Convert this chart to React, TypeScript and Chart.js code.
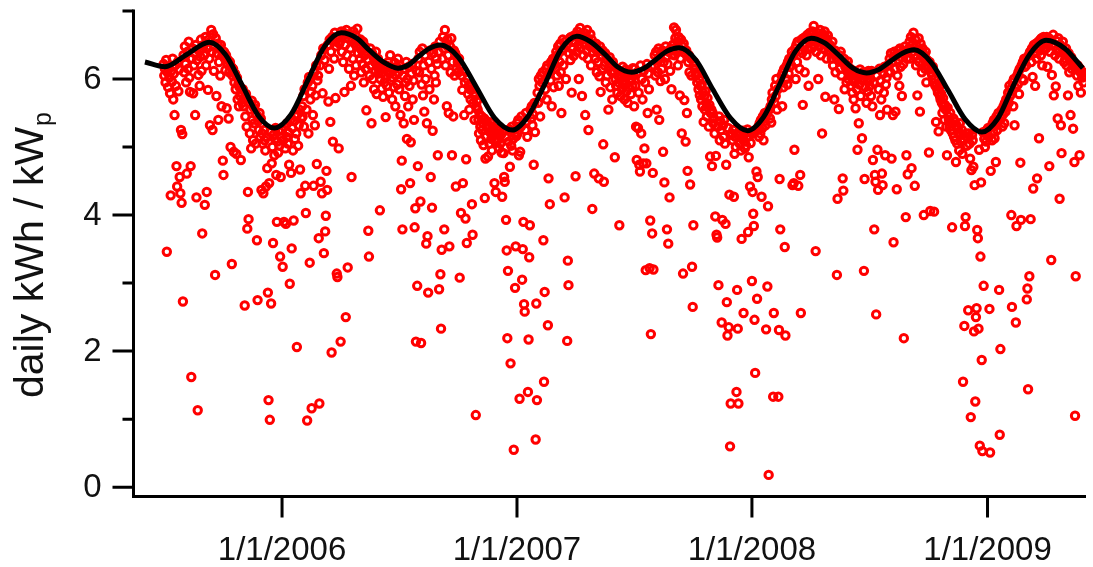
import React, { useEffect, useRef } from 'react';
import { Chart, registerables } from 'chart.js';

Chart.register(...registerables);

// ---------- axis text ----------
const Y_LABEL = 'daily kWh / kW';
const Y_LABEL_SUB = 'p';
const xTickDays = [0, 365, 730, 1096]; // days after 1/1/2006
const xTickLabels = ['1/1/2006', '1/1/2007', '1/1/2008', '1/1/2009'];
const yMajorTicks = [0, 2, 4, 6];
const yMinorTicks = [1, 3, 5, 7];

// ---------- fitted curve (day after 1/1/2006, value) ----------
const fitDays = [-213, -182, -148, -113, -88, -62, -36, -12, 14, 40, 66, 92, 116, 136, 159, 180, 197, 212, 229, 246, 274, 302, 330, 358, 382, 409, 433, 458, 479, 501, 521, 543, 561, 580, 598, 617, 643, 669, 697, 723, 748, 773, 797, 822, 843, 865, 887, 908, 927, 945, 964, 982, 1008, 1035, 1061, 1087, 1112, 1136, 1162, 1187, 1216, 1244];
const fitValues = [6.25, 6.18, 6.36, 6.54, 6.36, 5.91, 5.45, 5.28, 5.48, 5.98, 6.48, 6.68, 6.60, 6.42, 6.24, 6.16, 6.21, 6.33, 6.45, 6.50, 6.32, 5.88, 5.43, 5.25, 5.45, 5.94, 6.43, 6.63, 6.55, 6.37, 6.18, 6.10, 6.15, 6.28, 6.41, 6.46, 6.28, 5.85, 5.42, 5.24, 5.44, 5.92, 6.40, 6.60, 6.53, 6.35, 6.16, 6.09, 6.14, 6.26, 6.38, 6.43, 6.25, 5.83, 5.41, 5.22, 5.42, 5.90, 6.37, 6.57, 6.45, 6.16];

// ---------- daily yields, one list per month ----------
// 2005: July .. December
const daily2005 = [
  [6.22, 6.05, 6.15, 5.95, 6.28, 3.46, 6.10, 5.88, 6.18, 6.02, 5.79, 4.29, 6.12, 5.96, 6.30, 5.70, 6.08, 5.47, 6.20, 5.90, 4.72, 4.42, 6.25, 5.82, 6.14, 4.56, 4.32, 5.25, 4.18, 5.19, 2.73],
  [6.35, 6.10, 6.48, 6.22, 5.95, 4.61, 6.40, 6.15, 6.55, 6.02, 5.81, 4.72, 1.62, 6.30, 6.45, 5.79, 6.20, 6.38, 5.47, 6.50, 4.26, 6.28, 1.13, 6.06, 6.42, 5.90, 6.33, 6.58, 6.12, 3.73, 6.45],
  [6.50, 6.35, 4.15, 6.62, 6.20, 4.34, 6.45, 5.84, 6.58, 6.30, 5.32, 6.55, 6.72, 6.40, 5.25, 6.66, 6.12, 6.48, 3.12, 6.60, 5.75, 6.38, 6.52, 5.40, 6.25, 6.45, 6.05, 6.50, 5.60, 6.35],
  [4.80, 4.59, 6.40, 6.30, 6.13, 6.35, 5.57, 6.22, 6.28, 5.42, 6.10, 6.25, 5.00, 6.18, 3.28, 6.05, 6.15, 4.93, 5.95, 6.08, 5.85, 4.90, 6.02, 5.70, 5.92, 5.60, 5.88, 5.75, 4.81, 5.80, 5.65],
  [5.85, 5.60, 5.72, 2.67, 5.45, 5.78, 5.30, 3.80, 4.34, 3.94, 5.65, 5.20, 5.55, 4.98, 5.68, 5.40, 5.10, 5.58, 5.35, 5.62, 5.05, 5.48, 3.63, 2.75, 5.38, 5.25, 5.50, 5.15, 5.42, 4.37],
  [5.20, 5.05, 4.32, 5.25, 5.10, 4.95, 4.42, 5.15, 4.69, 2.86, 1.28, 4.47, 0.99, 5.22, 2.70, 4.76, 5.00, 3.59, 5.18, 4.88, 5.12, 5.28, 4.59, 3.90, 5.08, 4.92, 5.24, 5.02, 3.39, 4.56, 5.14],
];
const daily2006 = [
  [5.25, 3.24, 5.10, 3.90, 5.30, 4.98, 3.87, 5.15, 5.35, 5.05, 5.22, 4.74, 2.99, 5.40, 4.62, 3.51, 5.28, 4.95, 3.92, 5.38, 5.12, 5.45, 5.20, 2.06, 5.48, 5.02, 5.32, 5.55, 4.67, 4.32, 5.42],
  [5.60, 5.45, 5.75, 5.30, 5.85, 4.43, 4.03, 5.55, 0.98, 5.95, 5.20, 6.03, 3.30, 5.70, 5.81, 1.16, 5.90, 5.47, 4.43, 6.10, 5.32, 5.76, 6.20, 4.75, 5.98, 6.05, 3.66, 1.23],
  [6.20, 4.49, 6.35, 4.32, 5.79, 6.45, 3.44, 6.28, 3.76, 3.99, 4.65, 4.37, 6.50, 5.67, 6.15, 6.58, 5.37, 6.40, 1.98, 6.62, 5.08, 6.55, 6.30, 6.68, 5.72, 6.48, 3.14, 3.09, 6.60, 4.98, 6.52],
  [6.55, 2.14, 6.70, 6.40, 6.62, 6.25, 6.68, 5.81, 6.50, 2.50, 6.72, 6.35, 3.23, 6.60, 6.15, 6.66, 6.45, 5.90, 4.56, 6.58, 6.30, 6.70, 6.05, 6.52, 6.64, 6.20, 6.48, 6.74, 6.38, 6.56],
  [6.50, 6.30, 6.58, 6.10, 6.42, 6.22, 6.55, 5.95, 6.35, 6.48, 6.15, 5.54, 6.40, 6.28, 3.77, 3.39, 6.05, 6.45, 6.20, 5.35, 6.38, 6.00, 6.32, 5.85, 6.25, 6.12, 6.40, 5.78, 6.18, 6.30, 6.08],
  [6.15, 4.07, 6.00, 6.22, 5.86, 6.10, 5.74, 6.18, 5.95, 6.05, 5.44, 6.20, 5.90, 6.12, 6.25, 5.80, 6.08, 6.35, 5.98, 6.16, 5.70, 6.02, 6.14, 5.88, 6.24, 5.60, 6.06, 6.18, 5.92, 6.30],
  [6.10, 5.85, 6.20, 5.47, 4.38, 4.80, 3.79, 6.05, 5.35, 6.15, 5.75, 5.95, 6.25, 5.12, 6.00, 5.60, 6.18, 5.90, 4.47, 5.07, 6.08, 6.22, 5.70, 5.98, 5.40, 3.82, 4.10, 2.14, 6.12, 2.96, 4.72],
  [6.30, 6.10, 6.40, 4.20, 2.12, 5.92, 6.45, 5.76, 6.20, 5.52, 6.35, 6.00, 3.58, 5.35, 3.69, 2.86, 6.25, 5.85, 6.42, 4.56, 6.15, 4.11, 5.24, 6.38, 5.70, 6.05, 6.48, 5.95, 6.30, 6.22, 4.88],
  [6.40, 2.91, 6.55, 3.13, 2.33, 3.49, 6.30, 6.62, 6.45, 3.79, 6.72, 6.20, 6.50, 5.60, 6.58, 6.35, 5.50, 3.54, 6.48, 6.10, 6.60, 4.88, 6.25, 5.45, 6.42, 6.05, 6.38, 4.42, 6.15, 6.32],
  [6.25, 6.10, 6.30, 3.08, 6.18, 4.03, 6.05, 5.84, 4.47, 6.12, 5.47, 5.95, 3.95, 4.82, 3.59, 6.00, 5.78, 5.90, 5.55, 5.85, 5.70, 5.92, 4.16, 3.71, 5.65, 5.80, 5.40, 5.75, 1.06, 5.60, 5.68],
  [5.55, 5.40, 5.20, 5.48, 5.30, 5.10, 5.45, 5.25, 5.35, 5.03, 5.42, 4.25, 4.83, 5.15, 5.38, 5.28, 4.86, 5.32, 5.05, 5.22, 5.36, 5.12, 4.95, 5.30, 5.18, 5.26, 4.47, 5.08, 4.34, 5.20],
  [5.25, 5.10, 5.20, 4.98, 5.28, 5.05, 5.18, 4.92, 4.27, 5.22, 4.91, 4.56, 4.49, 5.15, 3.93, 3.48, 2.19, 3.18, 5.08, 5.26, 4.71, 1.82, 5.02, 5.30, 4.95, 5.12, 0.55, 5.20, 2.93, 3.54, 5.16],
];
const daily2007 = [
  [5.35, 5.20, 5.40, 4.88, 1.30, 4.93, 5.30, 5.45, 3.05, 3.50, 3.90, 2.69, 2.58, 5.25, 5.50, 5.38, 5.15, 1.40, 2.17, 3.38, 3.85, 5.55, 5.42, 5.60, 5.32, 5.48, 4.74, 5.65, 5.22, 0.70, 2.70],
  [1.28, 5.80, 5.65, 6.00, 5.90, 5.45, 6.05, 5.75, 5.95, 6.10, 3.63, 1.55, 2.87, 5.85, 6.15, 5.70, 6.20, 2.38, 4.54, 6.08, 4.16, 5.98, 6.25, 5.60, 6.18, 6.30, 5.88, 6.22],
  [6.30, 6.15, 6.40, 6.05, 6.35, 6.48, 5.90, 6.25, 6.52, 6.10, 5.50, 6.42, 6.58, 6.20, 6.45, 4.26, 6.55, 6.00, 6.50, 2.15, 3.33, 2.97, 6.38, 6.60, 6.28, 6.62, 5.80, 6.44, 6.56, 6.34, 6.64],
  [6.55, 4.57, 6.65, 6.40, 6.70, 6.50, 6.00, 6.60, 6.75, 6.45, 6.62, 5.75, 6.58, 6.35, 6.68, 6.52, 5.47, 6.63, 6.42, 6.72, 6.30, 5.25, 6.55, 6.48, 6.66, 6.20, 6.58, 4.09, 6.40, 6.50],
  [4.61, 6.45, 6.30, 6.52, 6.10, 6.40, 6.25, 4.54, 6.04, 6.48, 5.81, 6.35, 6.15, 6.42, 5.04, 4.49, 6.20, 6.38, 5.95, 6.30, 6.05, 6.28, 5.55, 6.18, 6.32, 5.88, 6.22, 6.10, 5.70, 6.25, 6.12],
  [6.10, 4.85, 6.00, 5.90, 6.15, 5.80, 6.05, 5.95, 3.85, 6.12, 5.75, 6.02, 5.85, 6.18, 5.92, 6.08, 5.70, 5.98, 6.14, 5.82, 6.04, 5.65, 6.10, 5.88, 5.96, 6.06, 5.78, 6.00, 5.90, 6.16],
  [6.05, 5.60, 6.15, 5.90, 5.30, 4.81, 6.10, 5.28, 5.80, 4.74, 4.64, 6.20, 5.20, 6.00, 5.70, 4.76, 6.12, 4.98, 5.95, 3.19, 4.76, 6.22, 5.50, 6.08, 5.85, 3.22, 3.92, 2.25, 6.18, 3.73, 4.62],
  [3.20, 6.20, 6.35, 6.05, 6.40, 5.55, 6.28, 6.10, 6.45, 5.40, 6.30, 5.97, 6.38, 6.15, 6.42, 4.93, 6.25, 4.48, 6.00, 6.48, 6.33, 3.79, 6.22, 3.58, 6.40, 4.26, 6.12, 6.45, 5.85, 6.36, 6.50],
  [6.50, 6.76, 6.35, 6.60, 6.72, 6.40, 6.55, 6.20, 6.62, 6.45, 5.76, 6.30, 6.58, 5.20, 6.48, 3.14, 6.52, 5.69, 6.38, 5.08, 6.42, 5.50, 4.65, 6.25, 6.35, 6.10, 4.45, 6.30, 6.05, 3.24],
  [2.65, 3.85, 6.25, 6.15, 6.20, 6.05, 6.10, 5.95, 6.08, 5.85, 6.00, 5.76, 5.90, 5.70, 5.92, 5.60, 5.80, 5.37, 5.75, 5.55, 5.82, 5.65, 5.45, 5.72, 5.58, 5.30, 5.62, 4.86, 5.50, 5.55, 4.72],
  [5.50, 5.35, 5.42, 5.20, 3.98, 4.87, 3.71, 3.67, 5.30, 2.97, 5.45, 5.10, 5.38, 5.25, 2.42, 3.93, 5.32, 5.15, 5.40, 5.05, 3.87, 4.74, 2.72, 2.23, 5.28, 2.35, 4.30, 0.60, 1.23, 5.18],
  [5.20, 5.10, 5.25, 4.27, 4.90, 5.15, 5.00, 1.40, 2.90, 2.33, 1.23, 5.22, 5.05, 5.18, 4.95, 3.65, 5.12, 5.24, 2.56, 5.08, 4.98, 5.20, 5.02, 5.14, 5.26, 3.75, 4.85, 5.16, 4.42, 5.06, 5.22],
];
const daily2008 = [
  [3.03, 4.34, 4.02, 3.84, 2.46, 1.68, 5.25, 4.64, 2.77, 4.56, 5.30, 5.15, 5.35, 5.20, 5.40, 4.27, 5.28, 5.45, 5.10, 5.38, 5.50, 5.32, 2.32, 5.48, 2.95, 4.13, 0.18, 5.55, 5.42, 5.60, 5.36],
  [5.70, 5.80, 1.33, 2.56, 5.65, 5.90, 5.75, 6.00, 5.55, 5.85, 1.33, 2.31, 4.53, 3.79, 5.95, 6.05, 5.60, 6.10, 5.88, 6.15, 3.53, 2.23, 6.00, 6.20, 5.92, 6.25, 6.08, 6.30, 6.18],
  [6.30, 6.20, 6.40, 4.44, 6.35, 4.47, 4.96, 6.45, 6.00, 6.50, 6.25, 6.55, 4.43, 6.42, 6.15, 4.59, 2.56, 6.58, 6.38, 5.62, 6.60, 6.48, 6.10, 6.62, 6.52, 6.35, 6.65, 6.44, 5.90, 6.58, 6.68],
  [6.55, 6.65, 6.45, 6.70, 6.60, 6.78, 6.50, 6.62, 3.47, 6.40, 6.68, 6.55, 6.00, 6.63, 6.48, 6.72, 6.35, 6.58, 5.20, 6.66, 6.52, 6.44, 6.70, 5.74, 6.60, 6.30, 6.56, 6.64, 6.42, 6.50],
  [6.50, 6.40, 6.45, 6.30, 6.55, 6.20, 6.38, 5.70, 6.42, 6.10, 6.32, 3.12, 4.24, 6.28, 5.56, 6.35, 6.15, 6.40, 6.05, 6.25, 4.54, 4.36, 6.30, 5.85, 6.18, 6.22, 5.95, 6.12, 6.26, 6.00, 6.08],
  [6.05, 6.15, 5.90, 6.10, 5.80, 6.00, 5.70, 6.12, 5.95, 5.57, 6.08, 5.85, 4.96, 6.02, 5.35, 5.92, 6.14, 5.75, 6.06, 5.13, 5.98, 6.10, 3.18, 4.53, 5.88, 6.04, 5.65, 6.00, 5.82, 6.12],
  [6.10, 5.90, 6.00, 5.75, 6.12, 5.60, 4.81, 5.95, 3.79, 4.59, 4.49, 2.54, 6.05, 4.96, 4.37, 5.85, 6.15, 5.47, 5.98, 5.70, 4.61, 4.44, 6.08, 5.80, 6.18, 4.88, 5.92, 6.02, 5.55, 6.20, 6.10],
  [6.20, 6.30, 6.10, 6.38, 4.83, 6.25, 5.47, 3.60, 6.40, 6.15, 5.52, 6.35, 4.38, 6.05, 6.42, 6.28, 5.90, 6.45, 6.18, 6.32, 5.75, 6.40, 6.22, 2.19, 6.36, 6.48, 3.97, 4.88, 6.30, 4.60, 6.44],
  [6.45, 6.55, 6.30, 6.62, 4.69, 6.50, 6.40, 6.68, 6.35, 4.43, 6.58, 6.20, 6.48, 5.76, 6.42, 6.60, 6.25, 5.52, 6.52, 6.38, 6.10, 6.45, 6.30, 4.00, 6.35, 6.15, 6.40, 5.95, 6.28, 6.20],
  [6.20, 4.92, 6.25, 4.06, 6.10, 6.15, 6.05, 6.18, 5.95, 4.05, 6.00, 5.90, 5.37, 5.92, 5.85, 5.80, 5.23, 5.88, 5.75, 5.70, 5.78, 5.65, 5.50, 5.72, 5.60, 5.40, 5.62, 5.55, 5.30, 4.88, 5.58],
  [5.45, 5.40, 5.30, 5.50, 5.25, 5.35, 3.82, 5.20, 5.42, 5.15, 5.38, 5.10, 4.78, 5.32, 5.05, 5.28, 5.22, 4.95, 5.35, 5.18, 5.08, 5.25, 4.90, 1.55, 5.12, 2.37, 3.84, 3.97, 5.20, 5.02],
  [5.15, 2.60, 5.20, 5.05, 4.83, 1.03, 4.66, 5.18, 5.10, 4.71, 2.29, 4.44, 1.26, 2.50, 2.63, 3.78, 3.66, 2.33, 4.96, 0.61, 3.39, 4.48, 1.87, 0.53, 5.22, 2.96, 5.12, 5.00, 5.20, 5.08, 5.25],
];
// 2009: January .. May
const daily2009 = [
  [5.20, 5.28, 5.15, 2.62, 0.51, 4.65, 5.30, 5.10, 5.35, 5.22, 5.40, 5.13, 5.32, 4.78, 5.45, 5.25, 5.38, 5.50, 2.90, 0.77, 2.03, 5.42, 5.55, 5.30, 5.48, 5.60, 5.35, 5.65, 5.52, 5.70, 5.58],
  [5.70, 5.80, 5.65, 5.90, 5.75, 5.85, 4.00, 2.65, 5.95, 5.60, 6.00, 5.32, 5.88, 2.42, 3.84, 6.05, 5.92, 6.10, 5.78, 6.15, 4.77, 3.93, 6.20, 6.00, 6.25, 5.98, 6.30, 6.18],
  [6.30, 6.20, 2.76, 2.92, 1.44, 6.35, 3.10, 6.40, 3.94, 6.25, 6.45, 6.03, 4.39, 6.50, 6.38, 5.90, 6.52, 6.30, 4.54, 6.48, 6.55, 5.13, 6.42, 6.58, 6.35, 6.60, 6.20, 6.50, 6.62, 6.45, 6.56],
  [6.55, 6.45, 6.62, 6.18, 6.50, 6.60, 4.72, 6.40, 6.58, 3.34, 6.06, 6.52, 6.65, 5.76, 6.48, 6.35, 5.89, 6.56, 6.42, 5.42, 6.60, 6.30, 4.24, 6.50, 5.32, 4.91, 6.45, 6.55, 6.38, 6.25],
  [6.40, 6.30, 6.45, 6.20, 6.35, 5.76, 6.38, 6.10, 6.28, 5.47, 6.32, 6.15, 6.25, 5.27, 6.22, 4.78, 1.05, 3.10, 6.18, 6.05, 6.20, 5.90, 6.12, 4.88, 6.15, 5.80, 6.08, 6.02, 6.10, 5.95, 6.05],
];

// year, first month index (0 = January), monthly lists
const yearSeries: [number, number, number[][]][] = [
  [2005, 6, daily2005],
  [2006, 0, daily2006],
  [2007, 0, daily2007],
  [2008, 0, daily2008],
  [2009, 0, daily2009],
];

const X_MIN = -230;
const X_MAX = 1249;
const Y_MIN = -0.13;
const Y_MAX = 7.0;

const FONT = "'Liberation Sans', Arial, Helvetica, sans-serif";

function buildPoints() {
  const base = Date.UTC(2006, 0, 1);
  const pts: { x: number; y: number }[] = [];
  yearSeries.forEach(([year, m0, months]) => {
    months.forEach((vals, mi) => {
      const start = Math.round((Date.UTC(year, m0 + mi, 1) - base) / 86400000);
      vals.forEach((v, i) => {
        if (v != null) pts.push({ x: start + i, y: v });
      });
    });
  });
  return pts;
}

const axesPlugin = {
  id: 'igorAxes',
  afterDraw(chart: any) {
    const { ctx, chartArea, scales } = chart;
    const { left, right, bottom } = chartArea;
    const xs = scales.x;
    const ys = scales.y;
    ctx.save();
    ctx.strokeStyle = '#000';
    ctx.lineWidth = 3;
    ctx.lineCap = 'butt';
    const axX = left - 0.5;
    const axY = bottom + 0.5;
    // axis lines
    ctx.beginPath();
    ctx.moveTo(axX, ys.getPixelForValue(Y_MAX) - 1.5);
    ctx.lineTo(axX, axY + 1.5);
    ctx.moveTo(axX - 1.5, axY);
    ctx.lineTo(right, axY);
    ctx.stroke();
    // y ticks
    ctx.beginPath();
    yMajorTicks.forEach((v) => {
      const py = ys.getPixelForValue(v);
      ctx.moveTo(axX - 21, py);
      ctx.lineTo(axX, py);
    });
    yMinorTicks.forEach((v) => {
      const py = ys.getPixelForValue(v);
      ctx.moveTo(axX - 11, py);
      ctx.lineTo(axX, py);
    });
    // x ticks
    xTickDays.forEach((d) => {
      const px = xs.getPixelForValue(d);
      ctx.moveTo(px, axY);
      ctx.lineTo(px, axY + 21);
    });
    ctx.stroke();

    ctx.fillStyle = '#111';
    ctx.font = `33px ${FONT}`;
    ctx.textAlign = 'right';
    ctx.textBaseline = 'middle';
    yMajorTicks.forEach((v) => {
      ctx.fillText(String(v), axX - 32, ys.getPixelForValue(v) + 1);
    });
    ctx.textAlign = 'center';
    ctx.textBaseline = 'alphabetic';
    xTickDays.forEach((d, i) => {
      ctx.fillText(xTickLabels[i], xs.getPixelForValue(d), 560);
    });

    // y title with subscript
    ctx.save();
    ctx.translate(43, 398);
    ctx.rotate(-Math.PI / 2);
    ctx.textAlign = 'left';
    ctx.font = `41px ${FONT}`;
    ctx.fillText(Y_LABEL, 0, 0);
    const w = ctx.measureText(Y_LABEL).width;
    ctx.font = `25px ${FONT}`;
    ctx.fillText(Y_LABEL_SUB, w + 1, 8);
    ctx.restore();

    ctx.restore();
  },
};

export default function App() {
  const canvasRef = useRef<HTMLCanvasElement | null>(null);

  useEffect(() => {
    document.body.style.margin = '0';
    const canvas = canvasRef.current;
    if (!canvas) return;
    const points = buildPoints();
    const fit = fitDays.map((d, i) => ({ x: d, y: fitValues[i] }));
    const chart = new Chart(canvas, {
      type: 'scatter',
      data: {
        datasets: [
          {
            type: 'line',
            label: 'fit',
            data: fit,
            showLine: true,
            borderColor: '#000',
            borderWidth: 5,
            pointRadius: 0,
            cubicInterpolationMode: 'monotone',
            fill: false,
            order: 0,
          } as any,
          {
            type: 'scatter',
            label: 'daily',
            data: points,
            radius: 3.7,
            pointRadius: 3.7,
            borderWidth: 3,
            pointBorderWidth: 3,
            borderColor: '#ff0000',
            pointBorderColor: '#ff0000',
            backgroundColor: 'rgba(255,255,255,0)',
            pointBackgroundColor: 'rgba(255,255,255,0)',
            pointStyle: 'circle',
            order: 1,
          } as any,
        ],
      },
      options: {
        animation: false,
        responsive: false,
        maintainAspectRatio: false,
        layout: { padding: { left: 134, right: 0, top: 11, bottom: 71 } },
        scales: {
          x: { type: 'linear', min: X_MIN, max: X_MAX, display: false },
          y: { type: 'linear', min: Y_MIN, max: Y_MAX, display: false },
        },
        plugins: {
          legend: { display: false },
          tooltip: { enabled: false },
        },
      },
      plugins: [axesPlugin],
    });
    return () => chart.destroy();
  }, []);

  return (
    <div style={{ width: 1093, height: 567, background: '#fff' }}>
      <canvas ref={canvasRef} width={1093} height={567} style={{ display: 'block' }} />
    </div>
  );
}
